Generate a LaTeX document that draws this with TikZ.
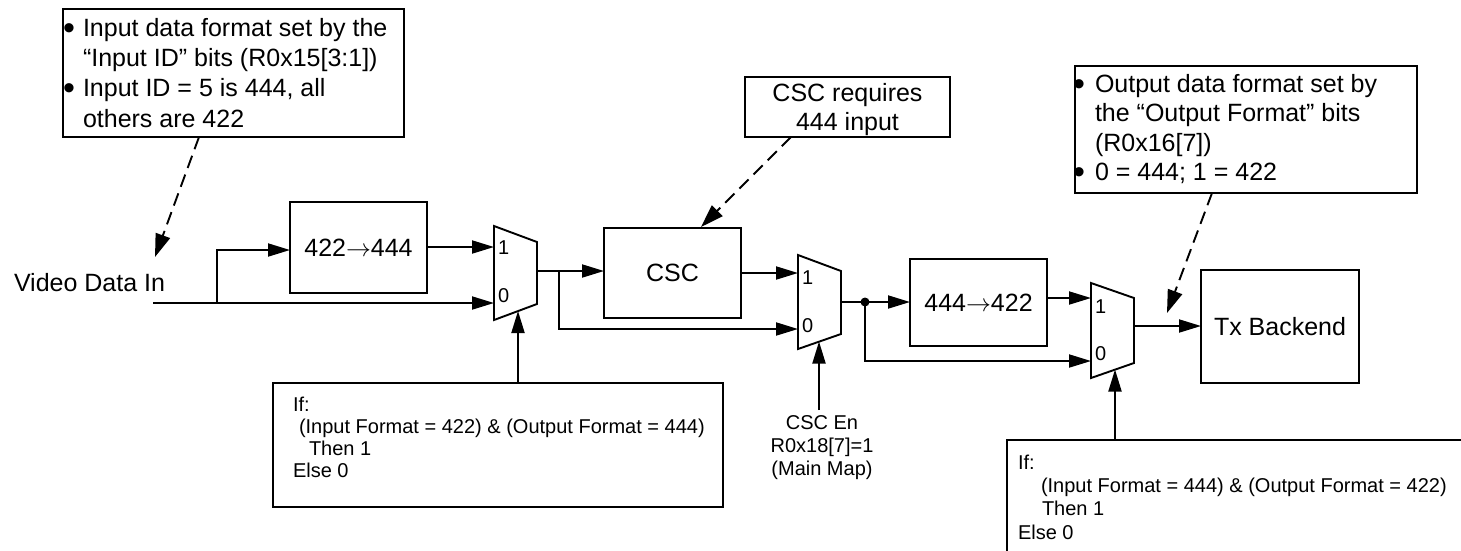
\documentclass[tikz,border=0pt]{standalone}
\usepackage{fontspec}
\setmainfont{Liberation Sans}
\usetikzlibrary{arrows.meta}
\begin{document}
\begin{tikzpicture}[x=1pt,y=-1pt,
  line width=1.9pt,
  every node/.style={inner sep=0pt, outer sep=0pt},
  big/.style={font=\fontsize{25}{30}\selectfont},
  small/.style={font=\fontsize{20}{23}\selectfont},
  pinlbl/.style={font=\fontsize{20}{23}\selectfont},
  bul/.style={font=\fontsize{34}{36}\selectfont, anchor=base},
  box/.style={draw, line width=1.9pt},
  wire/.style={line width=1.9pt},
  arr/.style={wire, -{Triangle[length=22pt,width=13pt]}},
  darr/.style={line width=1.9pt, dash pattern=on 13pt off 7pt, -{Triangle[length=23pt,width=15pt]}},
  muxshape/.style={draw, line width=1.9pt, line join=miter},
]
\useasboundingbox (0,0) rectangle (1461,550);

% ---------- note boxes ----------
\node[box, minimum width=341, minimum height=128] (note1) at (233.5,73) {};
\node[bul] (n1b1) at (69,39) {•};
\node[big, anchor=base west] (n1l1) at (83,36) {Input data format set by the};
\node[big, anchor=base west] (n1l2) at (83,66.3) {“Input ID” bits (R0x15[3:1])};
\node[bul] (n1b2) at (69,99.6) {•};
\node[big, anchor=base west] (n1l3) at (83,96.6) {Input ID = 5 is 444, all};
\node[big, anchor=base west] (n1l4) at (83,127) {others are 422};

\node[box, minimum width=205, minimum height=60] (note2) at (847.5,107) {};
\node[big, anchor=base] (n2l1) at (847.5,101) {CSC requires};
\node[big, anchor=base] (n2l2) at (847.5,130) {444 input};

\node[box, minimum width=342, minimum height=127] (note3) at (1246,129.5) {};
\node[bul] (n3b1) at (1079,95) {•};
\node[big, anchor=base west] (n3l1) at (1095,92) {Output data format set by};
\node[big, anchor=base west] (n3l2) at (1095,121.5) {the “Output Format” bits};
\node[big, anchor=base west] (n3l3) at (1095,151) {(R0x16[7])};
\node[bul] (n3b2) at (1079,183.5) {•};
\node[big, anchor=base west] (n3l4) at (1095,180.5) {0 = 444; 1 = 422};

% ---------- processing blocks ----------
\node[box, big, minimum width=137, minimum height=91] (up) at (358.5,247.5) {422$\rightarrow$444};
\node[box, big, minimum width=137, minimum height=90] (csc) at (672.5,273) {CSC};
\node[box, big, minimum width=137, minimum height=87] (down) at (978.5,302.5) {444$\rightarrow$422};
\node[box, big, minimum width=158, minimum height=113] (tx) at (1280,326.5) {Tx Backend};

\node[big, anchor=base west] (vdi) at (14,291) {Video Data In};

% ---------- muxes ----------
\draw[muxshape] (494,226) -- (537,242) -- (537,304) -- (494,320) -- cycle;
\node[pinlbl, anchor=base west] (m1l1) at (498,254) {1};
\node[pinlbl, anchor=base west] (m1l0) at (498,302) {0};
\coordinate (m1i1) at (494,247);
\coordinate (m1i0) at (494,303);
\coordinate (m1o) at (537,271);
\coordinate (m1s) at (518,311);

\draw[muxshape] (798,255) -- (841,271) -- (841,334) -- (798,349) -- cycle;
\node[pinlbl, anchor=base west] (m2l1) at (802,284) {1};
\node[pinlbl, anchor=base west] (m2l0) at (802,332) {0};
\coordinate (m2i1) at (798,273);
\coordinate (m2i0) at (798,329);
\coordinate (m2o) at (841,302);
\coordinate (m2s) at (819,341.5);

\draw[muxshape] (1091,283) -- (1134,298) -- (1134,363) -- (1091,378) -- cycle;
\node[pinlbl, anchor=base west] (m3l1) at (1095,313) {1};
\node[pinlbl, anchor=base west] (m3l0) at (1095,360) {0};
\coordinate (m3i1) at (1091,298);
\coordinate (m3i0) at (1091,361);
\coordinate (m3o) at (1134,326);
\coordinate (m3s) at (1115,369.5);

% ---------- condition boxes ----------
\node[box, minimum width=450, minimum height=124] (cond1) at (498,445) {};
\node[small, anchor=base west] (c1l1) at (293,411) {If:};
\node[small, anchor=base west] (c1l2) at (299,433.5) {(Input Format = 422) \& (Output Format = 444)};
\node[small, anchor=base west] (c1l3) at (309,455.5) {Then 1};
\node[small, anchor=base west] (c1l4) at (293,477.5) {Else 0};

\begin{scope}
\clip (0,0) rectangle (1461,550);
\node[box, minimum width=513, minimum height=160] (cond2) at (1263.5,520) {};
\end{scope}
\node[small, anchor=base west] (c2l1) at (1018,469) {If:};
\node[small, anchor=base west] (c2l2) at (1041,492) {(Input Format = 444) \& (Output Format = 422)};
\node[small, anchor=base west] (c2l3) at (1042,515.5) {Then 1};
\node[small, anchor=base west] (c2l4) at (1018,539) {Else 0};

\node[small, anchor=base] (ce1) at (822,429) {CSC En};
\node[small, anchor=base] (ce2) at (822,452) {R0x18[7]=1};
\node[small, anchor=base] (ce3) at (822,475) {(Main Map)};

% ---------- connection points ----------
\coordinate (vin) at (153,303);
\coordinate (br1) at (217,303);
\coordinate (upin) at (290,250);
\coordinate (upout) at (427,247);
\coordinate (cscin) at (604,271);
\coordinate (br2) at (559,271);
\coordinate (cscout) at (741,273);
\coordinate (downin) at (910,302);
\coordinate (dot) at (865,302);
\coordinate (downout) at (1047,298);
\coordinate (txin) at (1201,326);
\coordinate (s1from) at (518,383);
\coordinate (s2from) at (819,410);
\coordinate (s3from) at (1115,440);

% ---------- wires ----------
\draw[arr] (vin) -- (m1i0);
\draw[arr] (br1) |- (upin);
\draw[arr] (upout) -- (m1i1);
\draw[arr] (m1o) -- (cscin);
\draw[arr] (br2) |- (m2i0);
\draw[arr] (cscout) -- (m2i1);
\draw[arr] (m2o) -- (downin);
\fill (dot) circle (4.5);
\draw[arr] (dot) |- (m3i0);
\draw[arr] (downout) -- (m3i1);
\draw[arr] (m3o) -- (txin);
\draw[arr] (s1from) -- (m1s);
\draw[arr] (s2from) -- (m2s);
\draw[arr] (s3from) -- (m3s);

% ---------- dashed annotation arrows ----------
\coordinate (d1a) at (199,137);
\coordinate (d1b) at (155,257);
\coordinate (d2a) at (791,137);
\coordinate (d2b) at (701,227);
\coordinate (d3a) at (1212,193);
\coordinate (d3b) at (1167,313);
\draw[darr] (d1a) -- (d1b);
\draw[darr] (d2a) -- (d2b);
\draw[darr] (d3a) -- (d3b);
\end{tikzpicture}
\end{document}
